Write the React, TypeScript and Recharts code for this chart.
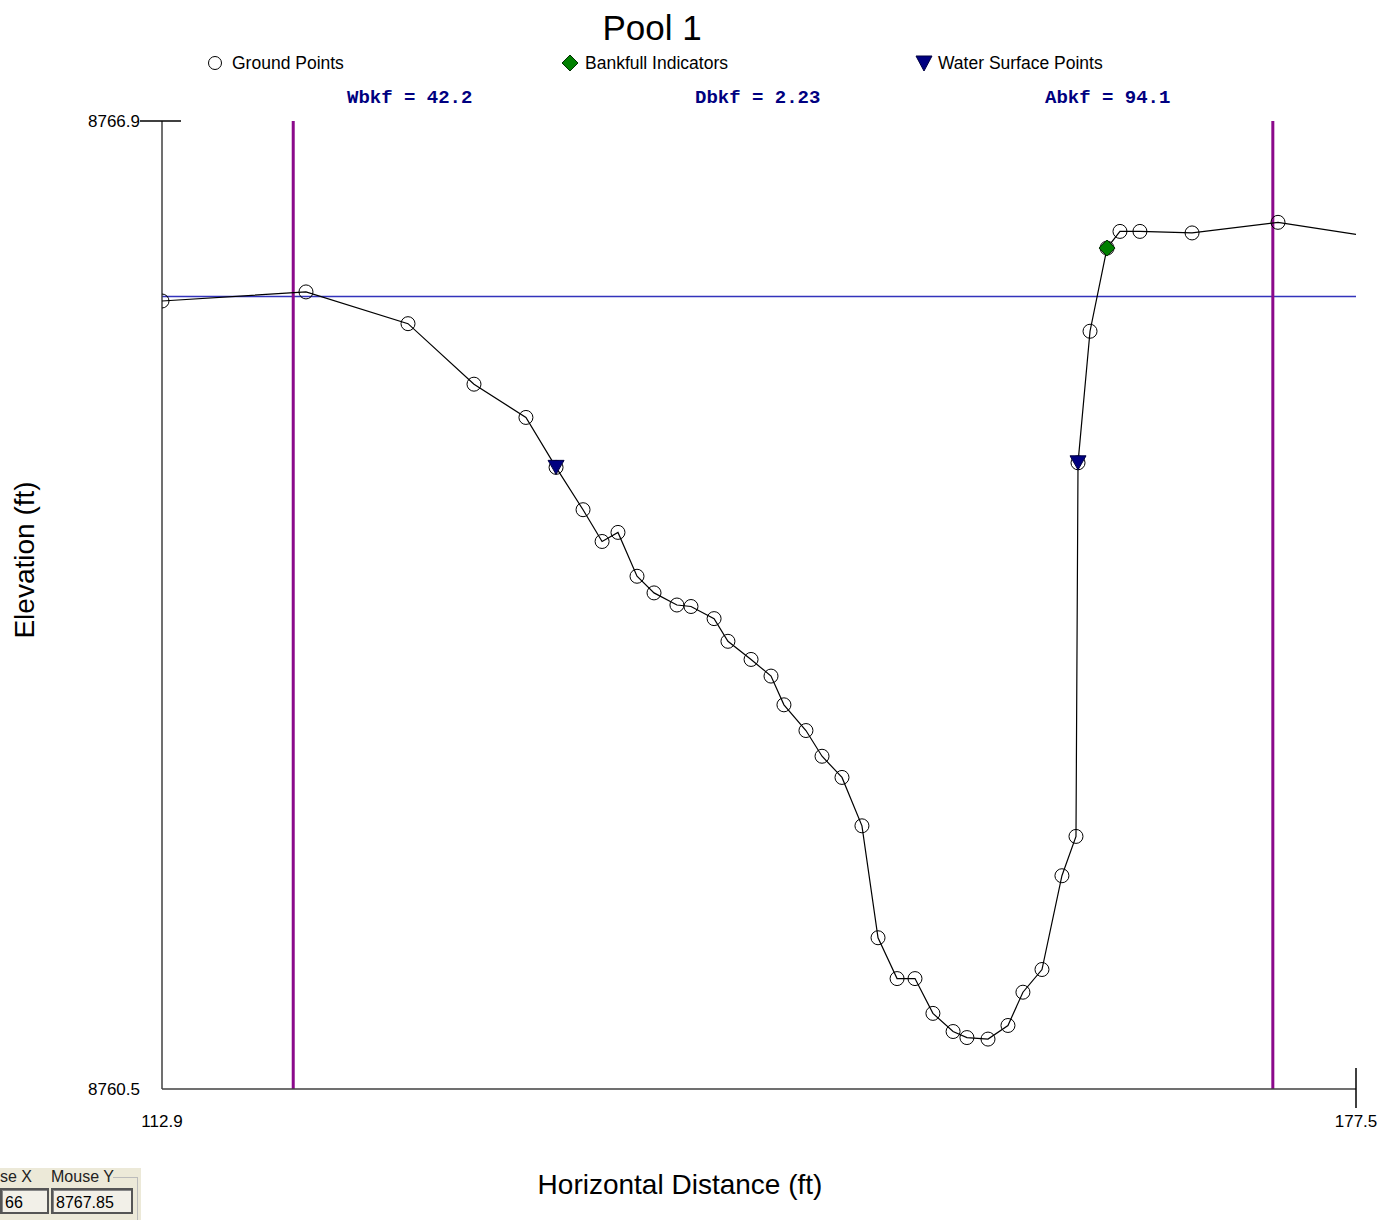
import { ScatterChart, Scatter, XAxis, YAxis, ReferenceLine } from "recharts";

// station (ft) and elevation (ft) of the surveyed cross-section
const groundX = [
    112.9, 120.69, 126.21, 129.78, 132.59, 134.22, 135.68, 136.71, 137.57, 138.6,
    139.52, 140.76, 141.52, 142.77, 143.52, 144.77, 145.85, 146.55, 147.74, 148.61,
    149.69, 150.77, 151.64, 152.67, 153.64, 154.61, 155.7, 156.45, 157.59, 158.67,
    159.48, 160.51, 161.59, 162.35, 162.46, 163.11, 164.03, 164.73, 165.81, 168.63,
    173.28, 177.5,
];
const groundY = [
    8765.71, 8765.77, 8765.56, 8765.16, 8764.94, 8764.61, 8764.33, 8764.12, 8764.18, 8763.89,
    8763.78, 8763.7, 8763.69, 8763.61, 8763.46, 8763.34, 8763.23, 8763.04, 8762.87, 8762.7,
    8762.56, 8762.24, 8761.5, 8761.23, 8761.23, 8761.0, 8760.88, 8760.84, 8760.83, 8760.92,
    8761.14, 8761.29, 8761.91, 8762.17, 8764.64, 8765.51, 8766.06, 8766.17, 8766.17, 8766.16,
    8766.23, 8766.15,
];

const waterX = [134.22, 162.46];
const waterY = [8764.61, 8764.64];

const bankfullX = [164.03];
const bankfullY = [8766.06];

const bankfullElev = 8765.74;
const limitX = [120.0, 173.0];

const xTicks = [112.9, 177.5];
const yTicks = [8760.5, 8766.9];

const stats = ["Wbkf = 42.2", "Dbkf = 2.23", "Abkf = 94.1"];

const toPoints = (xs: number[], ys: number[]) => xs.map((x, i) => ({ x, y: ys[i] }));

const ground = toPoints(groundX, groundY);
const water = toPoints(waterX, waterY);
const bankfull = toPoints(bankfullX, bankfullY);

const FONT = "'Liberation Sans', Arial, sans-serif";
const AXIS = "#404040";

const GroundDot = (props: any) => {
    const { cx, cy, payload } = props;
    if (payload.x >= 177.5) return <g />;
    return <circle cx={cx} cy={cy} r={7} fill="none" stroke="#000" strokeWidth={1} />;
};

const WaterDot = (props: any) => {
    const { cx, cy } = props;
    return (
        <polygon
            points={`${cx - 8},${cy - 7} ${cx + 8},${cy - 7} ${cx},${cy + 7}`}
            fill="#000080"
            stroke="#000040"
            strokeWidth={1}
        />
    );
};

const DiamondDot = (props: any) => {
    const { cx, cy } = props;
    return (
        <polygon
            points={`${cx},${cy - 8} ${cx + 8},${cy} ${cx},${cy + 8} ${cx - 8},${cy}`}
            fill="#008000"
            stroke="#003000"
            strokeWidth={1}
        />
    );
};

const XTick = (props: any) => {
    const { x, y, payload } = props;
    return (
        <g>
            {payload.value === 177.5 && (
                <line x1={x} x2={x} y1={y - 21} y2={y + 19} stroke="#000" strokeWidth={1.5} />
            )}
            <text x={x} y={y + 38} textAnchor="middle" fontSize={17} fontFamily={FONT} fill="#000">
                {payload.value.toFixed(1)}
            </text>
        </g>
    );
};

const YTick = (props: any) => {
    const { x, y, payload } = props;
    const top = payload.value === 8766.9;
    return (
        <g>
            {top && <line x1={x - 22} x2={x + 19} y1={y} y2={y} stroke="#000" strokeWidth={1.5} />}
            <text x={x - 22} y={y + 6} textAnchor="end" fontSize={17} fontFamily={FONT} fill="#000">
                {payload.value.toFixed(1)}
            </text>
        </g>
    );
};

function MousePanel() {
    const box = {
        position: "absolute" as const,
        top: 1188,
        height: 26,
        border: "2px solid #555",
        boxShadow: "inset 1px 1px 0 #888",
        background: "#f2f0e8",
        fontFamily: FONT,
        fontSize: 16,
        lineHeight: "26px",
        paddingLeft: 3,
        boxSizing: "border-box" as const,
    };
    return (
        <div style={{ position: "absolute", left: 0, top: 1168, width: 141, height: 52, background: "#ECE9D8" }}>
            <div style={{ position: "absolute", left: 0, top: 0, fontFamily: FONT, fontSize: 16, color: "#222" }}>se X</div>
            <div style={{ position: "absolute", left: 51, top: 0, fontFamily: FONT, fontSize: 16, color: "#222" }}>Mouse Y</div>
            <div style={{ position: "absolute", left: 113, top: 9, width: 24, height: 42, borderTop: "1px solid #bbb", borderRight: "1px solid #bbb" }} />
            <div style={{ ...box, top: 20, left: 0, width: 49 }}>66</div>
            <div style={{ ...box, top: 20, left: 51, width: 82 }}>8767.85</div>
        </div>
    );
}

function Overlay() {
    return (
        <svg width={1381} height={1220} style={{ position: "absolute", left: 0, top: 0, pointerEvents: "none" }}>
            <text x={652} y={40} textAnchor="middle" fontSize={35} fontFamily={FONT} fill="#000">
                Pool 1
            </text>

            <circle cx={215} cy={63} r={6.5} fill="#fff" stroke="#000" strokeWidth={1} />
            <text x={232} y={69} fontSize={17.5} fontFamily={FONT} fill="#000">Ground Points</text>

            <polygon points="570,55 578,63 570,71 562,63" fill="#008000" stroke="#003000" />
            <text x={585} y={69} fontSize={17.5} fontFamily={FONT} fill="#000">Bankfull Indicators</text>

            <polygon points="916,56 932,56 924,71" fill="#000080" stroke="#000040" />
            <text x={938} y={69} fontSize={17.5} fontFamily={FONT} fill="#000">Water Surface Points</text>

            {stats.map((s, i) => (
                <text
                    key={s}
                    x={[347, 695, 1045][i]}
                    y={103}
                    fontSize={19}
                    fontWeight="bold"
                    fontFamily="'Liberation Mono', 'DejaVu Sans Mono', monospace"
                    fill="#000080"
                    xmlSpace="preserve"
                >
                    {s}
                </text>
            ))}

            <text x={680} y={1194} textAnchor="middle" fontSize={28} fontFamily={FONT} fill="#000">
                Horizontal Distance (ft)
            </text>
            <text
                x={34}
                y={560}
                textAnchor="middle"
                fontSize={28}
                fontFamily={FONT}
                fill="#000"
                transform="rotate(-90 34 560)"
            >
                Elevation (ft)
            </text>
        </svg>
    );
}

export default function App() {
    return (
        <div style={{ position: "relative", width: 1381, height: 1220, background: "#fff" }}>
            <style>{"body{margin:0;background:#fff}"}</style>
            <ScatterChart width={1381} height={1220} margin={{ top: 121, right: 25, bottom: 101, left: 102 }}>
                <XAxis
                    type="number"
                    dataKey="x"
                    domain={[112.9, 177.5]}
                    ticks={xTicks}
                    allowDataOverflow
                    height={30}
                    tickSize={0}
                    tickMargin={0}
                    tickLine={false}
                    axisLine={{ stroke: AXIS, strokeWidth: 1.5 }}
                    tick={<XTick />}
                    interval={0}
                />
                <YAxis
                    type="number"
                    dataKey="y"
                    domain={[8760.5, 8766.9]}
                    ticks={yTicks}
                    allowDataOverflow
                    width={60}
                    tickSize={0}
                    tickMargin={0}
                    tickLine={false}
                    axisLine={{ stroke: AXIS, strokeWidth: 1.5 }}
                    tick={<YTick />}
                    interval={0}
                />
                <Scatter
                    data={ground}
                    line={{ stroke: "#000", strokeWidth: 1.2 }}
                    lineType="joint"
                    shape={<GroundDot />}
                    isAnimationActive={false}
                />
                <ReferenceLine y={bankfullElev} stroke="#3333bb" strokeWidth={1.5} />
                {limitX.map((x) => (
                    <ReferenceLine key={x} x={x} stroke="#8b0a8b" strokeWidth={3} />
                ))}
                <Scatter data={water} shape={<WaterDot />} isAnimationActive={false} />
                <Scatter data={bankfull} shape={<DiamondDot />} isAnimationActive={false} />
            </ScatterChart>
            <Overlay />
            <MousePanel />
        </div>
    );
}
